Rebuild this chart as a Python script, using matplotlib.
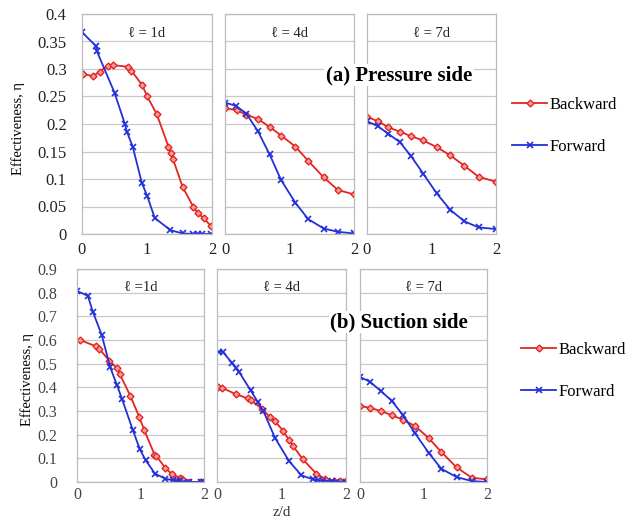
import matplotlib
matplotlib.use("Agg")
import matplotlib.pyplot as plt

SERIF = ['Liberation Serif', 'DejaVu Serif']
plt.rcParams['font.family'] = SERIF

RED = '#E52420'
BLUE = '#2230D8'

# ---------------- data ----------------
# (a) Pressure side
p1_bx = [0.02, 0.17, 0.27, 0.40, 0.48, 0.71, 0.76, 0.93, 1.00, 1.15, 1.33, 1.37, 1.40, 1.55, 1.71, 1.78, 1.87, 1.98]
p1_by = [0.291, 0.287, 0.295, 0.306, 0.307, 0.304, 0.297, 0.270, 0.251, 0.218, 0.159, 0.147, 0.136, 0.085, 0.050, 0.038, 0.029, 0.015]
p1_fx = [0.0, 0.22, 0.23, 0.50, 0.66, 0.69, 0.78, 0.92, 1.00, 1.12, 1.36, 1.55, 1.71, 1.78, 1.85, 1.98]
p1_fy = [0.367, 0.341, 0.332, 0.257, 0.200, 0.186, 0.159, 0.093, 0.070, 0.029, 0.007, 0.001, 0.0, 0.0, 0.0, 0.0]

p4_bx = [0.0, 0.18, 0.33, 0.51, 0.69, 0.87, 1.09, 1.29, 1.53, 1.75, 2.0]
p4_by = [0.229, 0.225, 0.217, 0.209, 0.195, 0.179, 0.159, 0.133, 0.103, 0.080, 0.072]
p4_fx = [0.0, 0.17, 0.33, 0.51, 0.69, 0.87, 1.09, 1.29, 1.53, 1.75, 2.0]
p4_fy = [0.239, 0.233, 0.219, 0.187, 0.145, 0.098, 0.057, 0.027, 0.010, 0.004, 0.001]

p7_bx = [0.0, 0.17, 0.33, 0.51, 0.68, 0.87, 1.08, 1.29, 1.51, 1.73, 2.0]
p7_by = [0.213, 0.205, 0.194, 0.186, 0.178, 0.170, 0.158, 0.143, 0.124, 0.104, 0.095]
p7_fx = [0.0, 0.17, 0.33, 0.51, 0.68, 0.87, 1.08, 1.29, 1.51, 1.73, 2.0]
p7_fy = [0.205, 0.196, 0.182, 0.167, 0.142, 0.110, 0.074, 0.044, 0.023, 0.012, 0.009]

# (b) Suction side
s1_bx = [0.04, 0.30, 0.35, 0.51, 0.63, 0.67, 0.84, 0.98, 1.06, 1.22, 1.25, 1.39, 1.49, 1.62, 1.66, 1.77, 1.94, 2.0]
s1_by = [0.601, 0.573, 0.563, 0.512, 0.481, 0.458, 0.364, 0.275, 0.219, 0.116, 0.110, 0.059, 0.035, 0.017, 0.014, 0.0, 0.0, 0.0]
s1_fx = [0.0, 0.17, 0.25, 0.39, 0.52, 0.63, 0.71, 0.88, 0.99, 1.08, 1.23, 1.39, 1.51, 1.57, 1.62, 1.77, 1.96, 2.0]
s1_fy = [0.807, 0.787, 0.719, 0.621, 0.487, 0.409, 0.350, 0.219, 0.138, 0.092, 0.035, 0.014, 0.007, 0.006, 0.004, 0.0, 0.0, 0.0]

s4_bx = [0.02, 0.07, 0.30, 0.48, 0.53, 0.69, 0.82, 0.90, 1.03, 1.12, 1.18, 1.33, 1.54, 1.67, 1.81, 1.91, 2.0]
s4_by = [0.402, 0.399, 0.370, 0.353, 0.346, 0.310, 0.275, 0.257, 0.214, 0.176, 0.152, 0.096, 0.035, 0.014, 0.004, 0.003, 0.003]
s4_fx = [0.03, 0.09, 0.24, 0.30, 0.34, 0.52, 0.63, 0.72, 0.90, 1.12, 1.31, 1.49, 1.57, 1.65, 1.78, 1.85, 2.0]
s4_fy = [0.550, 0.550, 0.501, 0.480, 0.466, 0.388, 0.339, 0.299, 0.186, 0.087, 0.028, 0.011, 0.007, 0.006, 0.003, 0.002, 0.002]

s7_bx = [0.0, 0.16, 0.33, 0.50, 0.67, 0.87, 1.08, 1.28, 1.52, 1.76, 2.0]
s7_by = [0.322, 0.313, 0.300, 0.282, 0.264, 0.236, 0.186, 0.127, 0.062, 0.018, 0.011]
s7_fx = [0.0, 0.16, 0.33, 0.50, 0.67, 0.87, 1.08, 1.28, 1.52, 1.76, 2.0]
s7_fy = [0.444, 0.423, 0.384, 0.343, 0.285, 0.205, 0.124, 0.056, 0.021, 0.004, 0.0]

panel_labels_top = ['\u2113 = 1d', '\u2113 = 4d', '\u2113 = 7d']
panel_labels_bot = ['\u2113 =1d', '\u2113 = 4d', '\u2113 = 7d']
series_names = ['Backward', 'Forward']
x_ticks = [0, 1, 2]
top_yticks = [0, 0.05, 0.1, 0.15, 0.2, 0.25, 0.3, 0.35, 0.4]
top_ytick_labels = ['0', '0.05', '0.1', '0.15', '0.2', '0.25', '0.3', '0.35', '0.4']
bot_yticks = [0, 0.1, 0.2, 0.3, 0.4, 0.5, 0.6, 0.7, 0.8, 0.9]
bot_ytick_labels = ['0', '0.1', '0.2', '0.3', '0.4', '0.5', '0.6', '0.7', '0.8', '0.9']

top_data = [(p1_bx, p1_by, p1_fx, p1_fy), (p4_bx, p4_by, p4_fx, p4_fy), (p7_bx, p7_by, p7_fx, p7_fy)]
bot_data = [(s1_bx, s1_by, s1_fx, s1_fy), (s4_bx, s4_by, s4_fx, s4_fy), (s7_bx, s7_by, s7_fx, s7_fy)]

W, H = 634, 520
fig = plt.figure(figsize=(W / 100, H / 100), dpi=100)

def rect(x0, y0, x1, y1):
    return [x0 / W, 1 - y1 / H, (x1 - x0) / W, (y1 - y0) / H]

top_rects = [rect(82, 14, 212, 234), rect(225, 14, 354, 234), rect(367, 14, 496, 234)]
bot_rects = [rect(77, 269, 204, 482), rect(217, 269, 346, 482), rect(360, 269, 487, 482)]

def style_ax(ax, yticks, ylabels, ymax, show_y, xpad, ypad, tcolor, lsize):
    ax.set_xlim(0, 2)
    ax.set_ylim(0, ymax)
    ax.set_xticks(x_ticks)
    ax.set_yticks(yticks)
    ax.grid(axis='y', color='#C8C8C8', linewidth=0.9)
    ax.set_axisbelow(True)
    for s in ax.spines.values():
        s.set_color('#BBBBBB')
        s.set_linewidth(0.9)
    ax.tick_params(length=0, labelsize=lsize, colors=tcolor)
    ax.tick_params(axis='x', pad=xpad)
    if show_y:
        ax.set_yticklabels(ylabels)
        ax.tick_params(axis='y', pad=ypad)
    else:
        ax.set_yticklabels([])

def draw(ax, d):
    bx, by, fx, fy = d
    hb, = ax.plot(bx, by, color=RED, lw=1.3, marker='D', ms=3.5, mfc='#F5A0A0', mec=RED, mew=1.0)
    hf, = ax.plot(fx, fy, color=BLUE, lw=1.3, marker='x', ms=5, mec=BLUE, mew=1.2)
    return hb, hf

handles = None
for i in range(3):
    ax = fig.add_axes(top_rects[i])
    handles = draw(ax, top_data[i])
    style_ax(ax, top_yticks, top_ytick_labels, 0.4, i == 0, 6, 11, '#222222', 12)
    ax.text(0.5, 0.91, panel_labels_top[i], transform=ax.transAxes, ha='center', va='center', fontsize=10.5, color='#222222')
    if i == 0:
        ax.set_ylabel('Effectiveness, \u03b7', fontsize=10.5)
        ax.yaxis.set_label_coords((25 - 82) / 130, 0.48)

for i in range(3):
    ax = fig.add_axes(bot_rects[i])
    draw(ax, bot_data[i])
    style_ax(ax, bot_yticks, bot_ytick_labels, 0.9, i == 0, 3.5, 14, '#444444', 11.5)
    ax.text(0.5, 0.915, panel_labels_bot[i], transform=ax.transAxes, ha='center', va='center', fontsize=10.5, color='#222222')
    if i == 0:
        ax.set_ylabel('Effectiveness, \u03b7', fontsize=10.5)
        ax.yaxis.set_label_coords((34 - 77) / 127, 0.48)
    if i == 1:
        ax.set_xlabel('z/d', fontsize=11, color='#333333')
        ax.xaxis.label.set_va('center')
        ax.xaxis.set_label_coords(0.5, (482 - 512.5) / 213)

fig.text(399 / W, 1 - 75 / H, '(a) Pressure side', ha='center', va='center', fontsize=15, fontweight='bold',
         bbox=dict(facecolor='white', edgecolor='none', pad=1))
fig.text(399 / W, 1 - 322 / H, '(b) Suction side', ha='center', va='center', fontsize=15, fontweight='bold',
         bbox=dict(facecolor='white', edgecolor='none', pad=1))

leg_kw = dict(frameon=False, fontsize=12, handlelength=2.1, handletextpad=0.15, labelspacing=1.55,
              borderpad=0, borderaxespad=0)
fig.legend(handles, series_names, loc='upper left', bbox_to_anchor=(512 / W, 1 - 97 / H), **leg_kw)
fig.legend(handles, series_names, loc='upper left', bbox_to_anchor=(521 / W, 1 - 342 / H), **leg_kw)

fig.savefig('out.png', dpi=100)
